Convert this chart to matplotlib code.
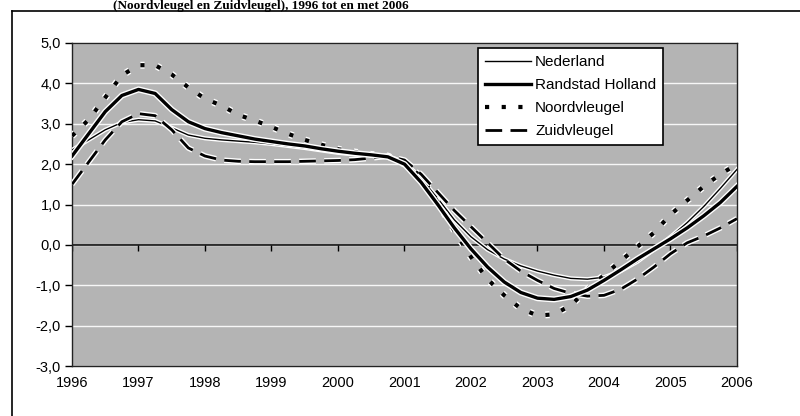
"""Economische groei Randstad Holland vs Nederland, 1996-2006 (recreated scan chart)."""
import matplotlib
matplotlib.use("Agg")
import matplotlib.pyplot as plt
import matplotlib.patheffects as pe
import numpy as np

plt.rcParams["font.family"] = ["Liberation Sans", "DejaVu Sans"]

# quarterly positions 1996.00 ... 2006.00
quarters = np.arange(1996.0, 2006.01, 0.25)

nederland = [2.35, 2.6, 2.85, 3.03, 3.1, 3.07, 2.9, 2.72, 2.64, 2.6, 2.57,
             2.54, 2.5, 2.45, 2.4, 2.34, 2.28, 2.24, 2.22, 2.2, 2.05, 1.65,
             1.15, 0.62, 0.2, -0.12, -0.35, -0.52, -0.65, -0.75, -0.83, -0.85,
             -0.8, -0.65, -0.42, -0.12, 0.2, 0.55, 0.95, 1.4, 1.87]
randstad = [2.2, 2.75, 3.3, 3.7, 3.85, 3.75, 3.35, 3.05, 2.88, 2.78, 2.7,
            2.62, 2.56, 2.5, 2.45, 2.38, 2.32, 2.27, 2.23, 2.18, 2.0, 1.55,
            1.0, 0.42, -0.1, -0.55, -0.92, -1.18, -1.32, -1.35, -1.28, -1.12,
            -0.88, -0.62, -0.35, -0.1, 0.15, 0.42, 0.72, 1.05, 1.45]
noordvleugel = [2.7, 3.1, 3.65, 4.2, 4.45, 4.45, 4.22, 3.9, 3.62, 3.45, 3.22,
                3.08, 2.92, 2.75, 2.6, 2.48, 2.37, 2.3, 2.24, 2.2, 2.0, 1.7,
                1.05, 0.35, -0.3, -0.85, -1.25, -1.58, -1.75, -1.72, -1.5, -1.1,
                -0.75, -0.4, -0.05, 0.3, 0.75, 1.1, 1.45, 1.75, 2.0]
zuidvleugel = [1.5, 2.05, 2.6, 3.05, 3.25, 3.2, 2.85, 2.4, 2.2, 2.1, 2.07,
               2.06, 2.06, 2.06, 2.07, 2.08, 2.09, 2.11, 2.15, 2.2, 2.1, 1.75,
               1.3, 0.85, 0.45, 0.05, -0.35, -0.65, -0.88, -1.08, -1.2, -1.27,
               -1.25, -1.1, -0.85, -0.55, -0.22, 0.05, 0.22, 0.42, 0.65]

years = list(range(1996, 2007))
yticks = [-3, -2, -1, 0, 1, 2, 3, 4, 5]
ytick_labels = ["-3,0", "-2,0", "-1,0", "0,0", "1,0", "2,0", "3,0", "4,0", "5,0"]

W, H = 800, 416
fig = plt.figure(figsize=(W / 100, H / 100), dpi=100)

# frame of the scanned figure box and caption above it
fig.add_artist(plt.Line2D([12 / W, 12 / W], [0, 1 - 11 / H], color="black", lw=1.2))
fig.add_artist(plt.Line2D([12 / W, 1], [1 - 11 / H, 1 - 11 / H], color="black", lw=1.2))
fig.text(113 / W, 1 - 8.5 / H, "(Noordvleugel en Zuidvleugel), 1996 tot en met 2006",
         family="Liberation Serif", fontsize=9.5, fontweight="bold", va="baseline", ha="left")

ax = fig.add_axes([72 / W, (H - 366) / H, 665 / W, 323 / H])
ax.set_facecolor("#b4b4b4")

ax.set_xlim(1996, 2006)
ax.set_ylim(-3, 5)
for v in yticks:
    ax.axhline(v, color="white", lw=1.0, alpha=0.9, zorder=1)
ax.axhline(0, color="black", lw=1.1, zorder=2)
ax.plot(years, [0] * len(years), ls="none", marker=3, ms=4, mew=1, color="black", zorder=2)

halo = lambda w: [pe.Stroke(linewidth=w + 2, foreground="white"), pe.Normal()]

ax.plot(quarters, nederland, color="black", lw=1.0, label="Nederland",
        path_effects=halo(1.0), zorder=4)
ax.plot(quarters, randstad, color="black", lw=2.4, label="Randstad Holland",
        path_effects=halo(2.4), zorder=5)
ax.plot(quarters, noordvleugel, color="black", lw=3.0, ls=(0, (1, 3)),
        dash_capstyle="butt", label="Noordvleugel", path_effects=halo(3.0), zorder=4)
ax.plot(quarters, zuidvleugel, color="black", lw=2.0, ls=(0, (6, 3)),
        dash_capstyle="butt", label="Zuidvleugel", path_effects=halo(2.0), zorder=4)

ax.set_xticks(years)
ax.set_xticklabels([str(y) for y in years], fontsize=10.5)
ax.tick_params(axis="x", length=0, pad=7)
ax.set_yticks(yticks)
ax.set_yticklabels(ytick_labels, fontsize=10.5)
ax.tick_params(axis="y", length=5, width=1, pad=3, direction="out")
for s in ax.spines.values():
    s.set_color("#222222")
    s.set_linewidth(1.0)

leg = ax.legend(loc="upper right", bbox_to_anchor=((663 - 72) / 665, (366 - 48) / 323),
                fontsize=11, frameon=True, fancybox=False, handlelength=3.0,
                handletextpad=0.25, labelspacing=0.6, borderpad=0.45, borderaxespad=0)
leg.get_frame().set_edgecolor("black")
leg.get_frame().set_linewidth(1.2)
leg.get_frame().set_facecolor("white")
leg.get_frame().set_alpha(1)

fig.savefig("out.png", dpi=100)
